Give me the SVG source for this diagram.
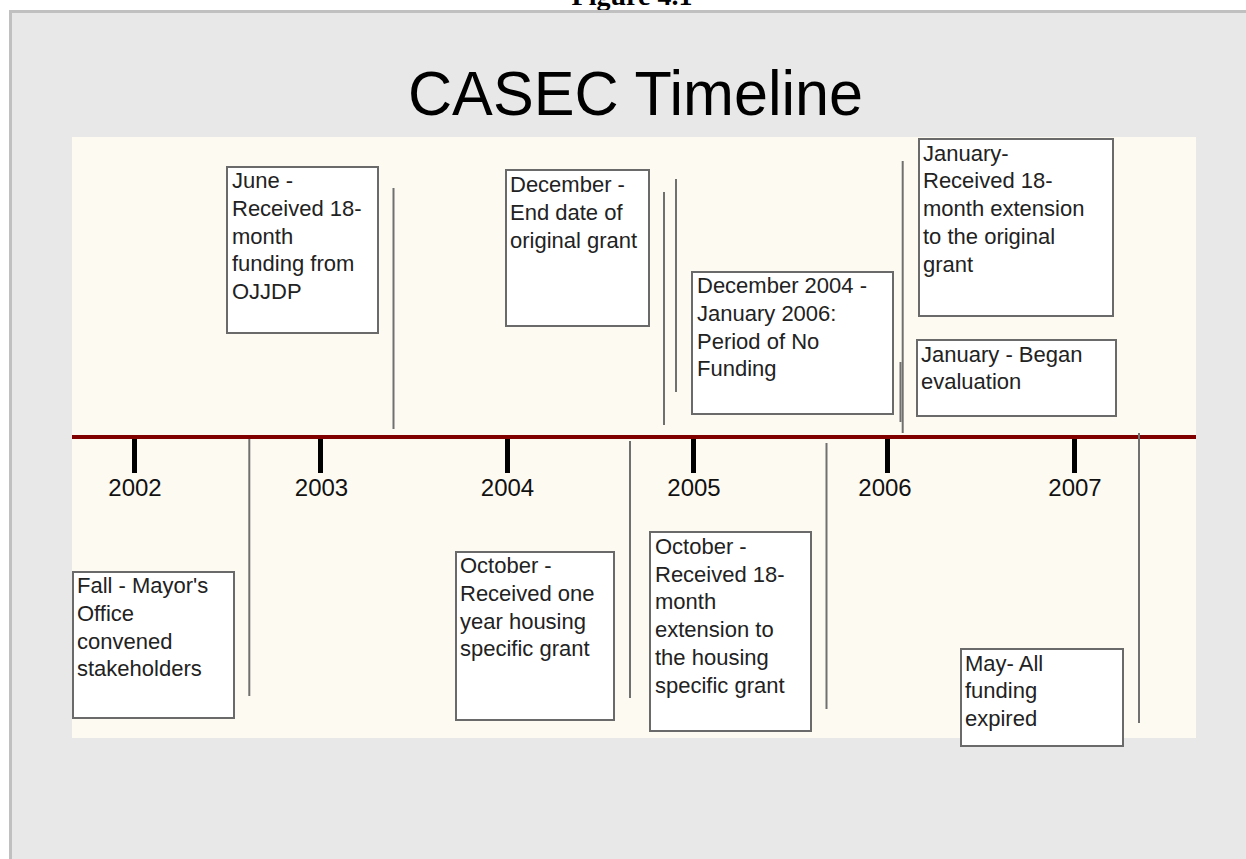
<svg xmlns="http://www.w3.org/2000/svg" width="1246" height="859" viewBox="0 0 1246 859">
<style>
.box{fill:#ffffff;stroke:#6a6a6a;stroke-width:2}
.lbl{font-family:"Liberation Sans",Arial,sans-serif;font-size:22px;fill:#222}
.yr{font-family:"Liberation Sans",Arial,sans-serif;font-size:24px;fill:#111;text-anchor:middle}
.vl{stroke:#707070;stroke-width:2;fill:none}
.tick{stroke:#000;stroke-width:5}
</style>
<rect x="0" y="0" width="1246" height="859" fill="#ffffff"/>
<text x="632" y="5" font-family="'Liberation Serif','Times New Roman',serif" font-weight="bold" font-size="28" text-anchor="middle" fill="#000">Figure 4.1</text>
<rect x="10.5" y="11.5" width="1240" height="852" fill="#e8e8e8" stroke="#c0c0c0" stroke-width="3"/>
<text x="408" y="115" font-family="'Liberation Sans',Arial,sans-serif" font-size="63" textLength="455" lengthAdjust="spacingAndGlyphs" fill="#000">CASEC Timeline</text>
<rect x="72" y="137" width="1124" height="601" fill="#fdfaf2"/>
<g id="axis">
<line x1="72" y1="437" x2="1196" y2="437" stroke="#800000" stroke-width="4"/>
<line class="tick" x1="134.5" y1="439" x2="134.5" y2="473"/>
<line class="tick" x1="320.5" y1="439" x2="320.5" y2="473"/>
<line class="tick" x1="507.5" y1="439" x2="507.5" y2="473"/>
<line class="tick" x1="693.5" y1="439" x2="693.5" y2="473"/>
<line class="tick" x1="887.5" y1="439" x2="887.5" y2="473"/>
<line class="tick" x1="1074.5" y1="439" x2="1074.5" y2="473"/>
<text class="yr" x="135" y="496">2002</text>
<text class="yr" x="321.5" y="496">2003</text>
<text class="yr" x="507.5" y="496">2004</text>
<text class="yr" x="694" y="496">2005</text>
<text class="yr" x="885" y="496">2006</text>
<text class="yr" x="1075" y="496">2007</text>
</g>
<g id="connectors">
<line class="vl" x1="393.5" y1="188" x2="393.5" y2="429"/>
<line class="vl" x1="664" y1="192" x2="664" y2="425"/>
<line class="vl" x1="676" y1="179" x2="676" y2="392"/>
<line class="vl" x1="902.7" y1="161" x2="902.7" y2="433"/>
<line class="vl" x1="900.5" y1="362" x2="900.5" y2="422"/>
<line class="vl" x1="1139" y1="433" x2="1139" y2="723"/>
<line class="vl" x1="249.3" y1="439" x2="249.3" y2="696"/>
<line class="vl" x1="630" y1="441" x2="630" y2="698"/>
<line class="vl" x1="826.5" y1="443" x2="826.5" y2="709"/>
</g>
<g id="june2003">
<rect class="box" x="227" y="167" width="151" height="166"/>
<text class="lbl" x="232"><tspan x="232" y="188.3">June -</tspan><tspan x="232" y="216">Received 18-</tspan><tspan x="232" y="243.7">month</tspan><tspan x="232" y="271.4">funding from</tspan><tspan x="232" y="299.1">OJJDP</tspan></text>
</g>
<g id="dec2004">
<rect class="box" x="506" y="170" width="143" height="156"/>
<text class="lbl"><tspan x="510" y="192.3">December -</tspan><tspan x="510" y="220">End date of</tspan><tspan x="510" y="247.7">original grant</tspan></text>
</g>
<g id="nofunding">
<rect class="box" x="692" y="272" width="201" height="142"/>
<text class="lbl"><tspan x="697" y="293.3">December 2004 -</tspan><tspan x="697" y="321">January 2006:</tspan><tspan x="697" y="348.7">Period of No</tspan><tspan x="697" y="376.4">Funding</tspan></text>
</g>
<g id="jan2006ext">
<rect class="box" x="919" y="139" width="194" height="177"/>
<text class="lbl"><tspan x="923" y="160.7">January-</tspan><tspan x="923" y="188.4">Received 18-</tspan><tspan x="923" y="216.1">month extension</tspan><tspan x="923" y="243.8">to the original</tspan><tspan x="923" y="271.5">grant</tspan></text>
</g>
<g id="jan2006eval">
<rect class="box" x="917" y="340" width="199" height="76"/>
<text class="lbl"><tspan x="921" y="361.7">January - Began</tspan><tspan x="921" y="389.4">evaluation</tspan></text>
</g>
<g id="fall2002">
<rect class="box" x="73" y="572" width="161" height="146"/>
<text class="lbl"><tspan x="77" y="593.3">Fall - Mayor's</tspan><tspan x="77" y="621">Office</tspan><tspan x="77" y="648.7">convened</tspan><tspan x="77" y="676.4">stakeholders</tspan></text>
</g>
<g id="oct2004">
<rect class="box" x="456" y="552" width="158" height="168"/>
<text class="lbl"><tspan x="460" y="573.3">October -</tspan><tspan x="460" y="601">Received one</tspan><tspan x="460" y="628.7">year housing</tspan><tspan x="460" y="656.4">specific grant</tspan></text>
</g>
<g id="oct2005">
<rect class="box" x="650" y="532" width="161" height="199"/>
<text class="lbl"><tspan x="655" y="554">October -</tspan><tspan x="655" y="581.7">Received 18-</tspan><tspan x="655" y="609.4">month</tspan><tspan x="655" y="637.1">extension to</tspan><tspan x="655" y="664.8">the housing</tspan><tspan x="655" y="692.5">specific grant</tspan></text>
</g>
<g id="may2007">
<rect class="box" x="961" y="649" width="162" height="97"/>
<text class="lbl"><tspan x="965" y="670.7">May- All</tspan><tspan x="965" y="698.4">funding</tspan><tspan x="965" y="726.1">expired</tspan></text>
</g>
</svg>
